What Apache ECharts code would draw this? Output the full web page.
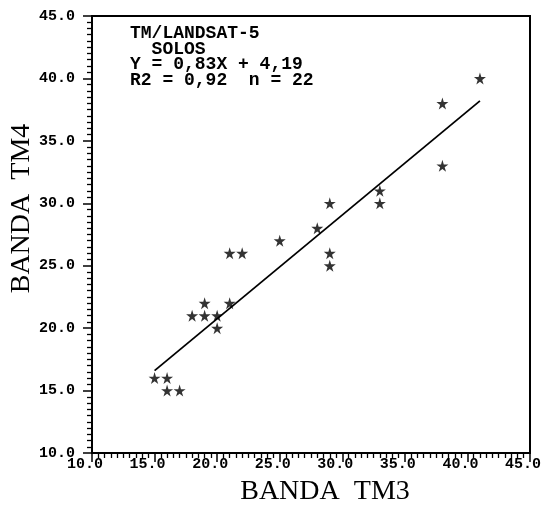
<!DOCTYPE html>
<html>
<head>
<meta charset="utf-8">
<script src="https://cdn.jsdelivr.net/npm/echarts@6/dist/echarts.min.js"></script>
<style>
  html, body { margin: 0; padding: 0; background: #fff; }
  #chart { width: 551px; height: 505px; }
</style>
</head>
<body>
<div id="chart"></div>
<script>
// TM3 / TM4 pairs (n = 22)
const tm3 = [15, 16, 16, 17, 18, 19, 19, 20, 20, 21, 21, 22, 25, 28, 29, 29, 29, 33, 33, 38, 38, 41]
const tm4 = [16, 16, 15, 15, 21, 22, 21, 21, 20, 22, 26, 26, 27, 28, 30, 26, 25, 31, 30, 33, 38, 40]

// fitted line end points as drawn
const fitX = [15, 41]
const fitY = [16.6, 38.2]

const annotation = ['TM/LANDSAT-5', '  SOLOS', 'Y = 0,83X + 4,19', 'R2 = 0,92  n = 22']

const star = 'path://M50,0 L61,35 L98,35 L68,57 L79,91 L50,70 L21,91 L32,57 L2,35 L39,35 Z'

const chart = echarts.init(document.getElementById('chart'))

const tickFont = {
  color: '#000',
  fontFamily: 'Liberation Mono',
  fontWeight: 'bold',
  fontSize: 15,
}

const axisBase = {
  type: 'value',
  min: 10,
  max: 45,
  interval: 5,
  nameLocation: 'middle',
  nameMoveOverlap: false,
  axisLine: { show: true, onZero: false, lineStyle: { color: '#000', width: 2 } },
  axisTick: { show: true, inside: false, length: 9, lineStyle: { color: '#000', width: 1.5 } },
  minorTick: { show: true, splitNumber: 10, length: 5, lineStyle: { color: '#000', width: 1.3 } },
  splitLine: { show: false },
}

chart.setOption({
  animation: false,
  backgroundColor: '#fff',
  title: {
    text: annotation.join('\n'),
    left: 130,
    top: 26,
    padding: 0,
    textStyle: {
      color: '#000',
      fontFamily: 'Liberation Mono',
      fontWeight: 'bold',
      fontSize: 18,
      lineHeight: 15.5,
    },
  },
  grid: {
    left: 92,
    right: 21,
    top: 16,
    bottom: 52,
    containLabel: false,
    outerBoundsMode: 'none',
    show: true,
    borderColor: '#000',
    borderWidth: 2,
  },
  xAxis: {
    ...axisBase,
    name: 'BANDA  TM3',
    nameGap: 25,
    nameTextStyle: {
      color: '#000',
      fontFamily: 'Liberation Serif',
      fontSize: 28,
      padding: [0, 0, 0, 28],
    },
    axisLabel: {
      ...tickFont,
      margin: 4,
      padding: [0, 14, 0, 0],
      formatter: (v) => v.toFixed(1),
    },
  },
  yAxis: {
    ...axisBase,
    name: 'BANDA  TM4',
    nameGap: 56,
    nameTextStyle: {
      color: '#000',
      fontFamily: 'Liberation Serif',
      fontSize: 28,
      padding: [0, 0, 0, 52],
    },
    axisLabel: {
      ...tickFont,
      margin: 17,
      formatter: (v) => v.toFixed(1),
    },
  },
  series: [
    {
      type: 'line',
      data: fitX.map((x, i) => [x, fitY[i]]),
      showSymbol: false,
      lineStyle: { color: '#000', width: 1.8 },
    },
    {
      type: 'scatter',
      data: tm3.map((x, i) => [x, tm4[i]]),
      symbol: star,
      symbolSize: 12,
      itemStyle: { color: '#000' },
    },
  ],
})
</script>
</body>
</html>
